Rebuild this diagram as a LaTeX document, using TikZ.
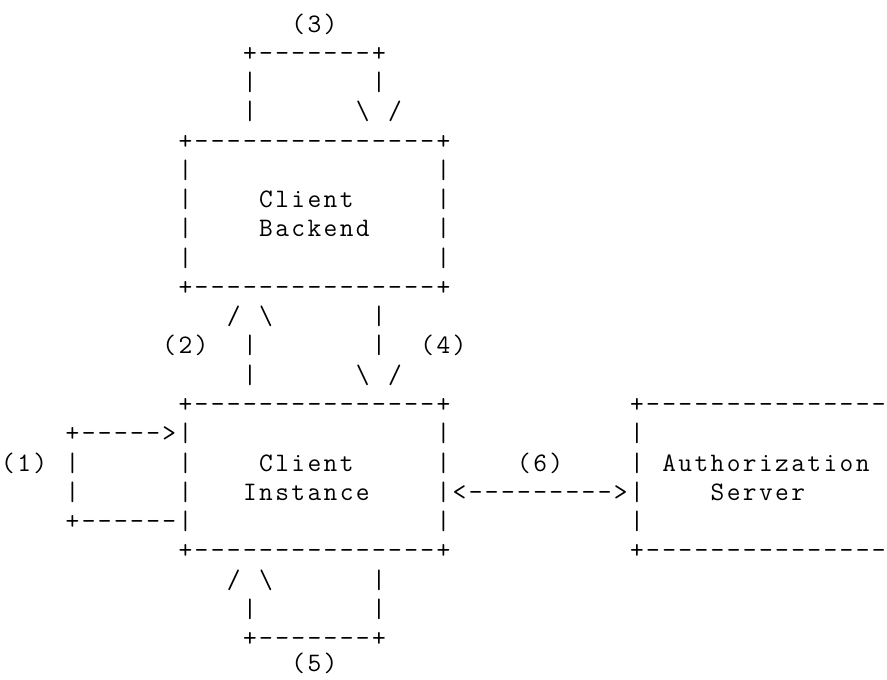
\documentclass[tikz,border=0pt]{standalone}
\usepackage{fontspec}
\newcommand{\bs}{\textbackslash}
\ExplSyntaxOn
\cs_new:Npn \monostr #1 { \tl_map_inline:nn {#1} { \makebox[12.094pt][c]{##1} } }
\ExplSyntaxOff
\tikzset{
  txt/.style={anchor=base west, inner sep=0pt, outer sep=0pt, text=black,
    font=\ttfamily\fontsize{20}{24}\selectfont}
}
% place text at column #2, line #3 (one fixed-width cell per character)
\newcommand{\T}[4]{\node[txt] (#1) at ({#2*16.125},{32+(#3-1)*29.27}) {\monostr{#4}};}
\begin{document}
\begin{tikzpicture}[x=0.75pt,y=-0.75pt]
\useasboundingbox (0,0) rectangle (887,679);
% loop (3)
\T{l3}{18}{1}{(3)}
\T{loopTtop}{15}{2}{+-------+}
\T{loopTa}{15}{3}{|}\T{loopTb}{23}{3}{|}
\T{loopTc}{15}{4}{|}\T{loopTarrA}{22}{4}{\bs}\T{loopTarrB}{24}{4}{/}
% Client Backend box
\T{cbTop}{11}{5}{+---------------+}
\T{cbL1}{11}{6}{|}\T{cbR1}{27}{6}{|}
\T{cbL2}{11}{7}{|}\T{cbT1}{16}{7}{Client}\T{cbR2}{27}{7}{|}
\T{cbL3}{11}{8}{|}\T{cbT2}{16}{8}{Backend}\T{cbR3}{27}{8}{|}
\T{cbL4}{11}{9}{|}\T{cbR4}{27}{9}{|}
\T{cbBot}{11}{10}{+---------------+}
% arrows (2) and (4)
\T{a2headA}{14}{11}{/}\T{a2headB}{16}{11}{\bs}\T{a4a}{23}{11}{|}
\T{l2}{10}{12}{(2)}\T{a2a}{15}{12}{|}\T{a4b}{23}{12}{|}\T{l4}{26}{12}{(4)}
\T{a2b}{15}{13}{|}\T{a4headA}{22}{13}{\bs}\T{a4headB}{24}{13}{/}
% Client Instance box and Authorization Server box
\T{ciTop}{11}{14}{+---------------+}\T{asTop}{39}{14}{+---------------}
\T{l1top}{4}{15}{+----->|}\T{ciR1}{27}{15}{|}\T{asL1}{39}{15}{|}
\T{l1}{0}{16}{(1)}\T{l1a}{4}{16}{|}\T{ciL2}{11}{16}{|}\T{ciT1}{16}{16}{Client}\T{ciR2}{27}{16}{|}\T{l6}{32}{16}{(6)}\T{asL2}{39}{16}{|}\T{asT1}{41}{16}{Authorization}
\T{l1b}{4}{17}{|}\T{ciL3}{11}{17}{|}\T{ciT2}{15}{17}{Instance}\T{a6}{27}{17}{|<--------->|}\T{asT2}{44}{17}{Server}
\T{l1bot}{4}{18}{+------|}\T{ciR4}{27}{18}{|}\T{asL4}{39}{18}{|}
\T{ciBot}{11}{19}{+---------------+}\T{asBot}{39}{19}{+---------------}
% loop (5)
\T{l5headA}{14}{20}{/}\T{l5headB}{16}{20}{\bs}\T{l5a}{23}{20}{|}
\T{l5b}{15}{21}{|}\T{l5c}{23}{21}{|}
\T{loopBbot}{15}{22}{+-------+}
\node[txt] (l5) at ({18*16.125},671) {\monostr{(5)}};
\end{tikzpicture}
\end{document}
